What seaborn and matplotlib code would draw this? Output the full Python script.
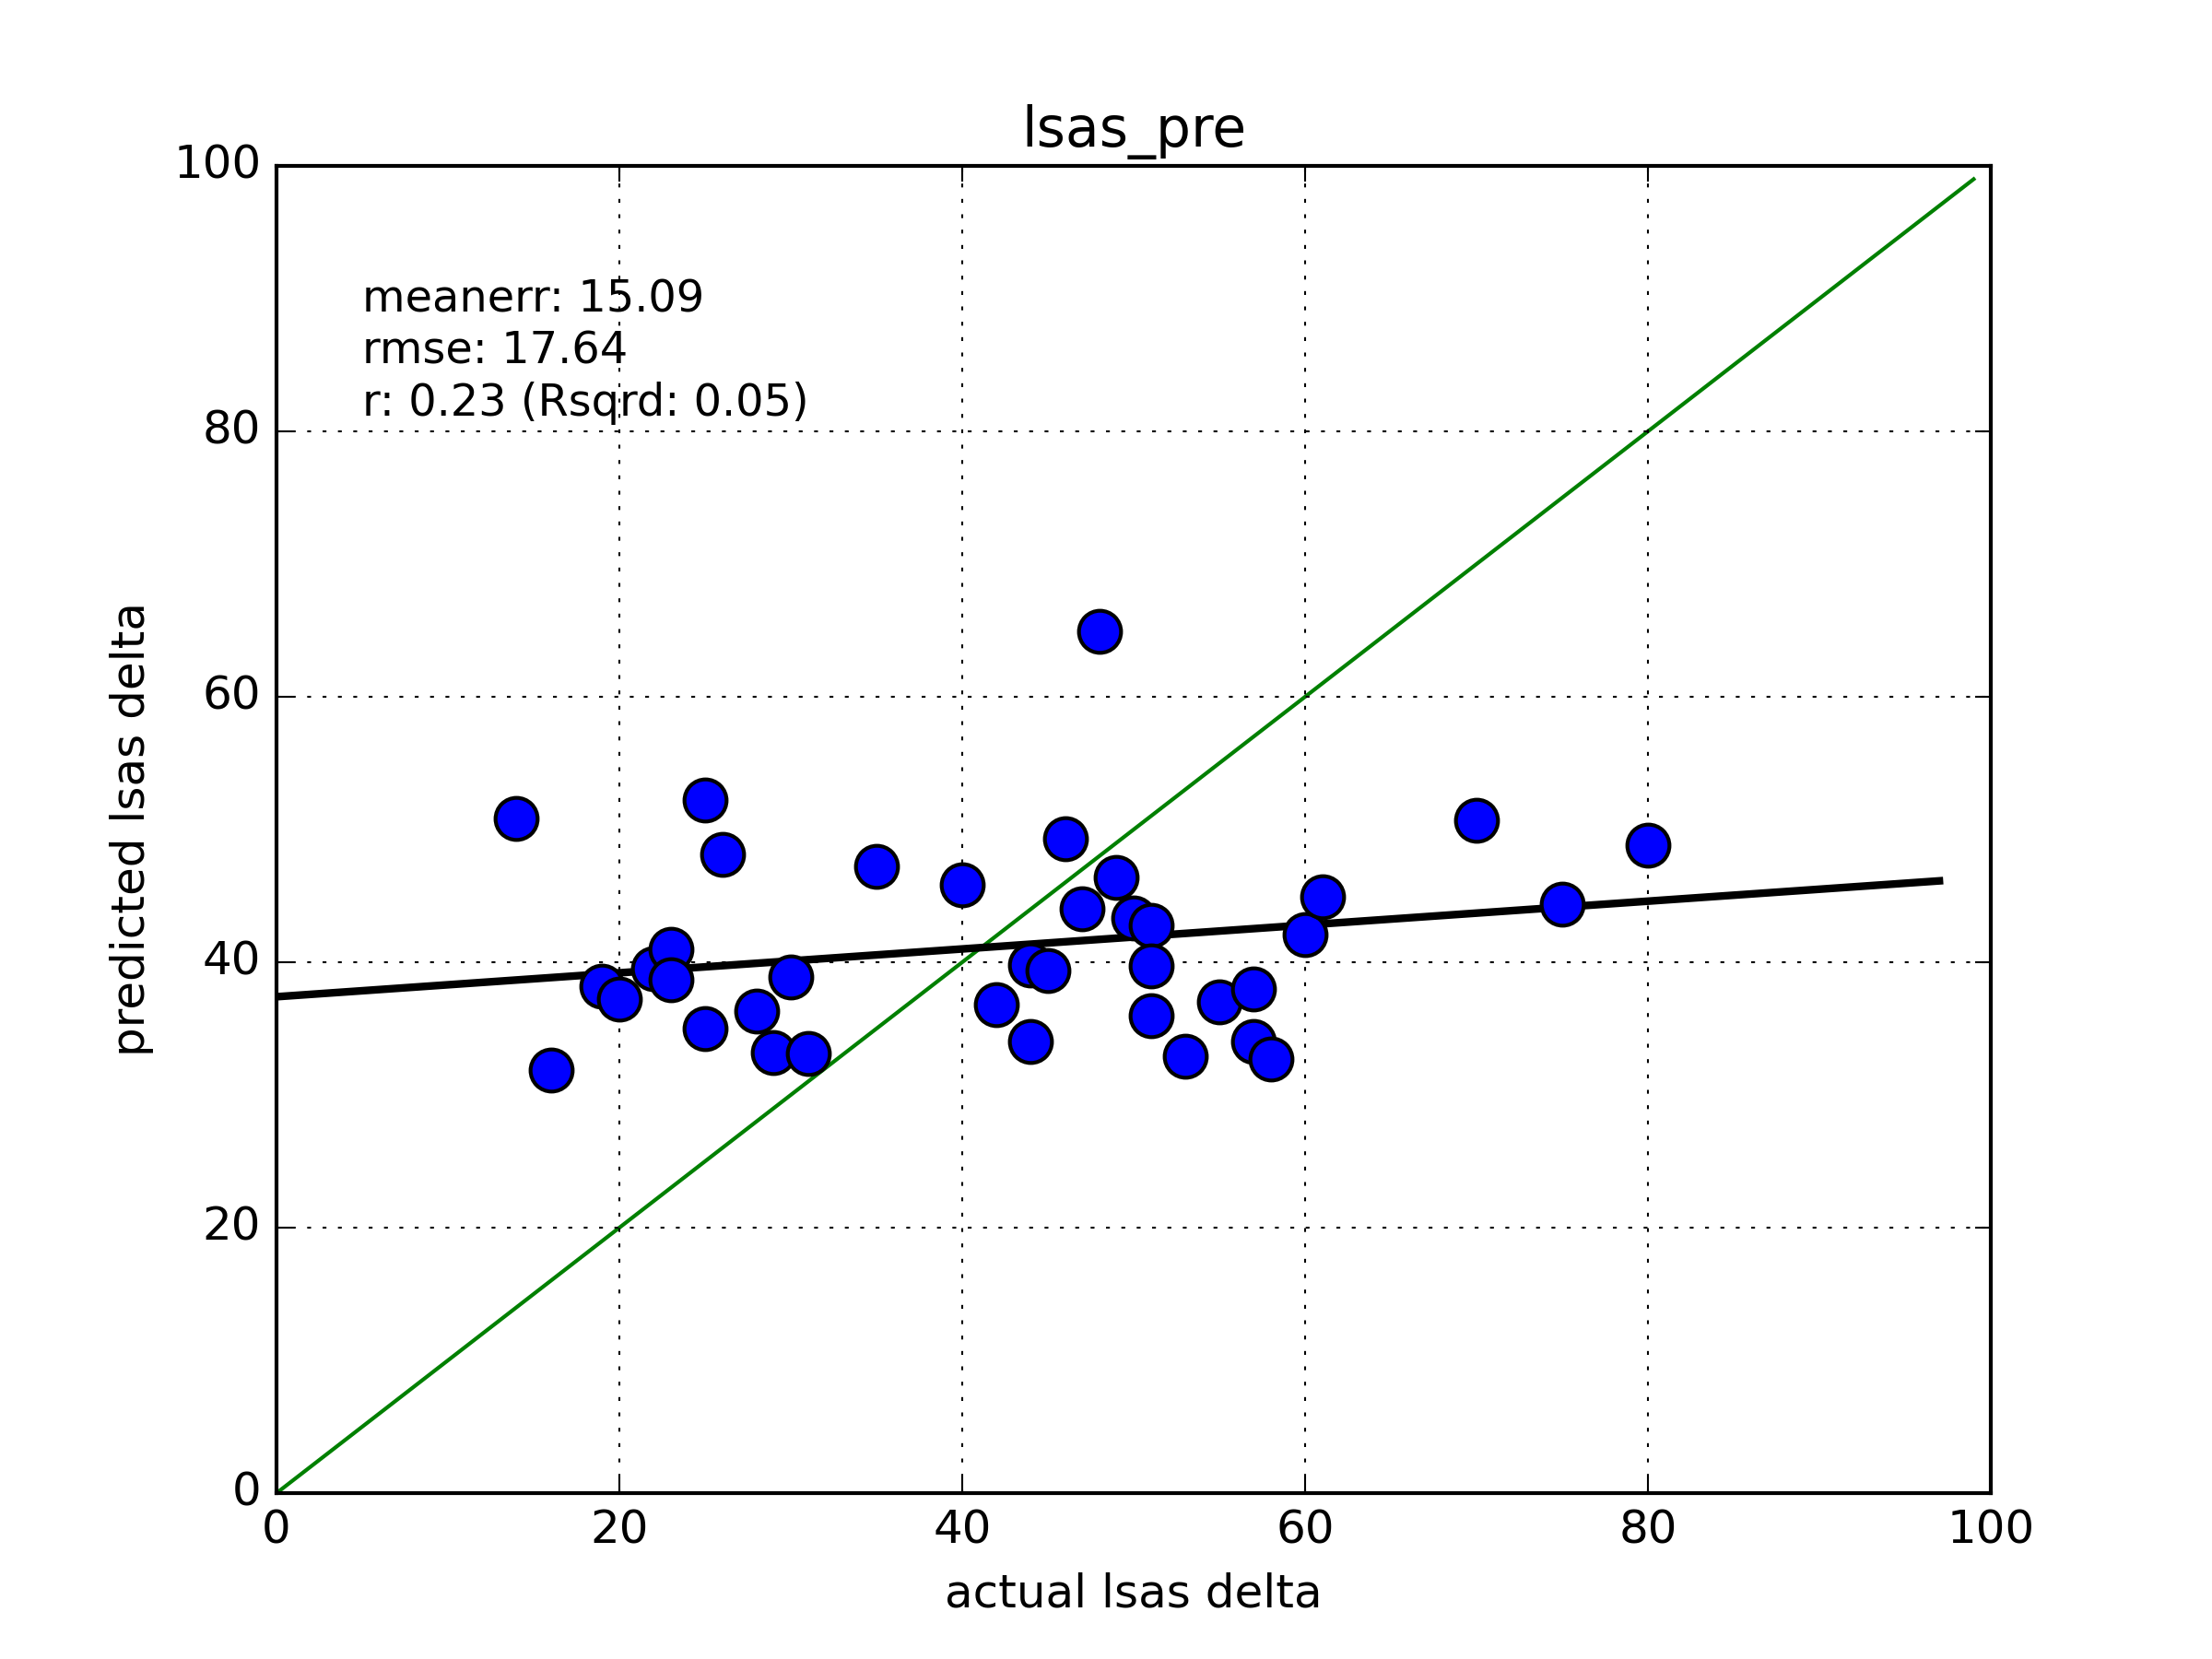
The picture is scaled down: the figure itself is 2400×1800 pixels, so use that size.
import numpy as np
import pandas as pd
import seaborn as sns
import matplotlib
matplotlib.use("Agg")
import matplotlib.pyplot as plt

actual = [14, 16, 19, 20, 22, 23, 23, 25, 25, 26, 28, 29, 30, 31, 35, 40, 42, 44, 44, 45,
          46, 47, 48, 49, 50, 51, 51, 51, 53, 55, 57, 57, 58, 60, 61, 70, 75, 80]
predicted = [50.8, 31.9, 38.2, 37.2, 39.5, 41.0, 38.7, 52.2, 35.0, 48.1, 36.3, 33.2, 38.9, 33.1,
             47.2, 45.8, 36.8, 39.8, 34.0, 39.4, 49.3, 44.0, 64.9, 46.4, 43.3, 42.8, 39.7, 36.0,
             32.9, 37.0, 38.0, 34.0, 32.7, 42.1, 44.9, 50.7, 44.4, 48.8]
# fit line
fit_intercept = 37.4
fit_slope = 0.09
stats_text = "meanerr: 15.09\nrmse: 17.64\nr: 0.23 (Rsqrd: 0.05)"

df = pd.DataFrame({"actual": actual, "predicted": predicted})

plt.style.use("classic")
fig, ax = plt.subplots(figsize=(8, 6), dpi=300)
fig.patch.set_facecolor("white")

diag = np.arange(0, 100)
ax.plot(diag, diag, color="green", lw=1)

fx = np.arange(0, 98)
ax.plot(fx, fit_slope * fx + fit_intercept, color="black", lw=2)

sns.scatterplot(data=df, x="actual", y="predicted", ax=ax, s=120, color="blue",
                edgecolor="black", linewidth=1, zorder=3)

ax.text(5, 80.5, stats_text, fontsize=11.5, va="bottom", linespacing=1.25)
ax.set_xlim(0, 100)
ax.set_ylim(0, 100)
ax.grid(True)
ax.set_title("lsas_pre")
ax.set_xlabel("actual lsas delta")
ax.set_ylabel("predicted lsas delta")
fig.savefig("out.png", dpi=300, facecolor="white")
